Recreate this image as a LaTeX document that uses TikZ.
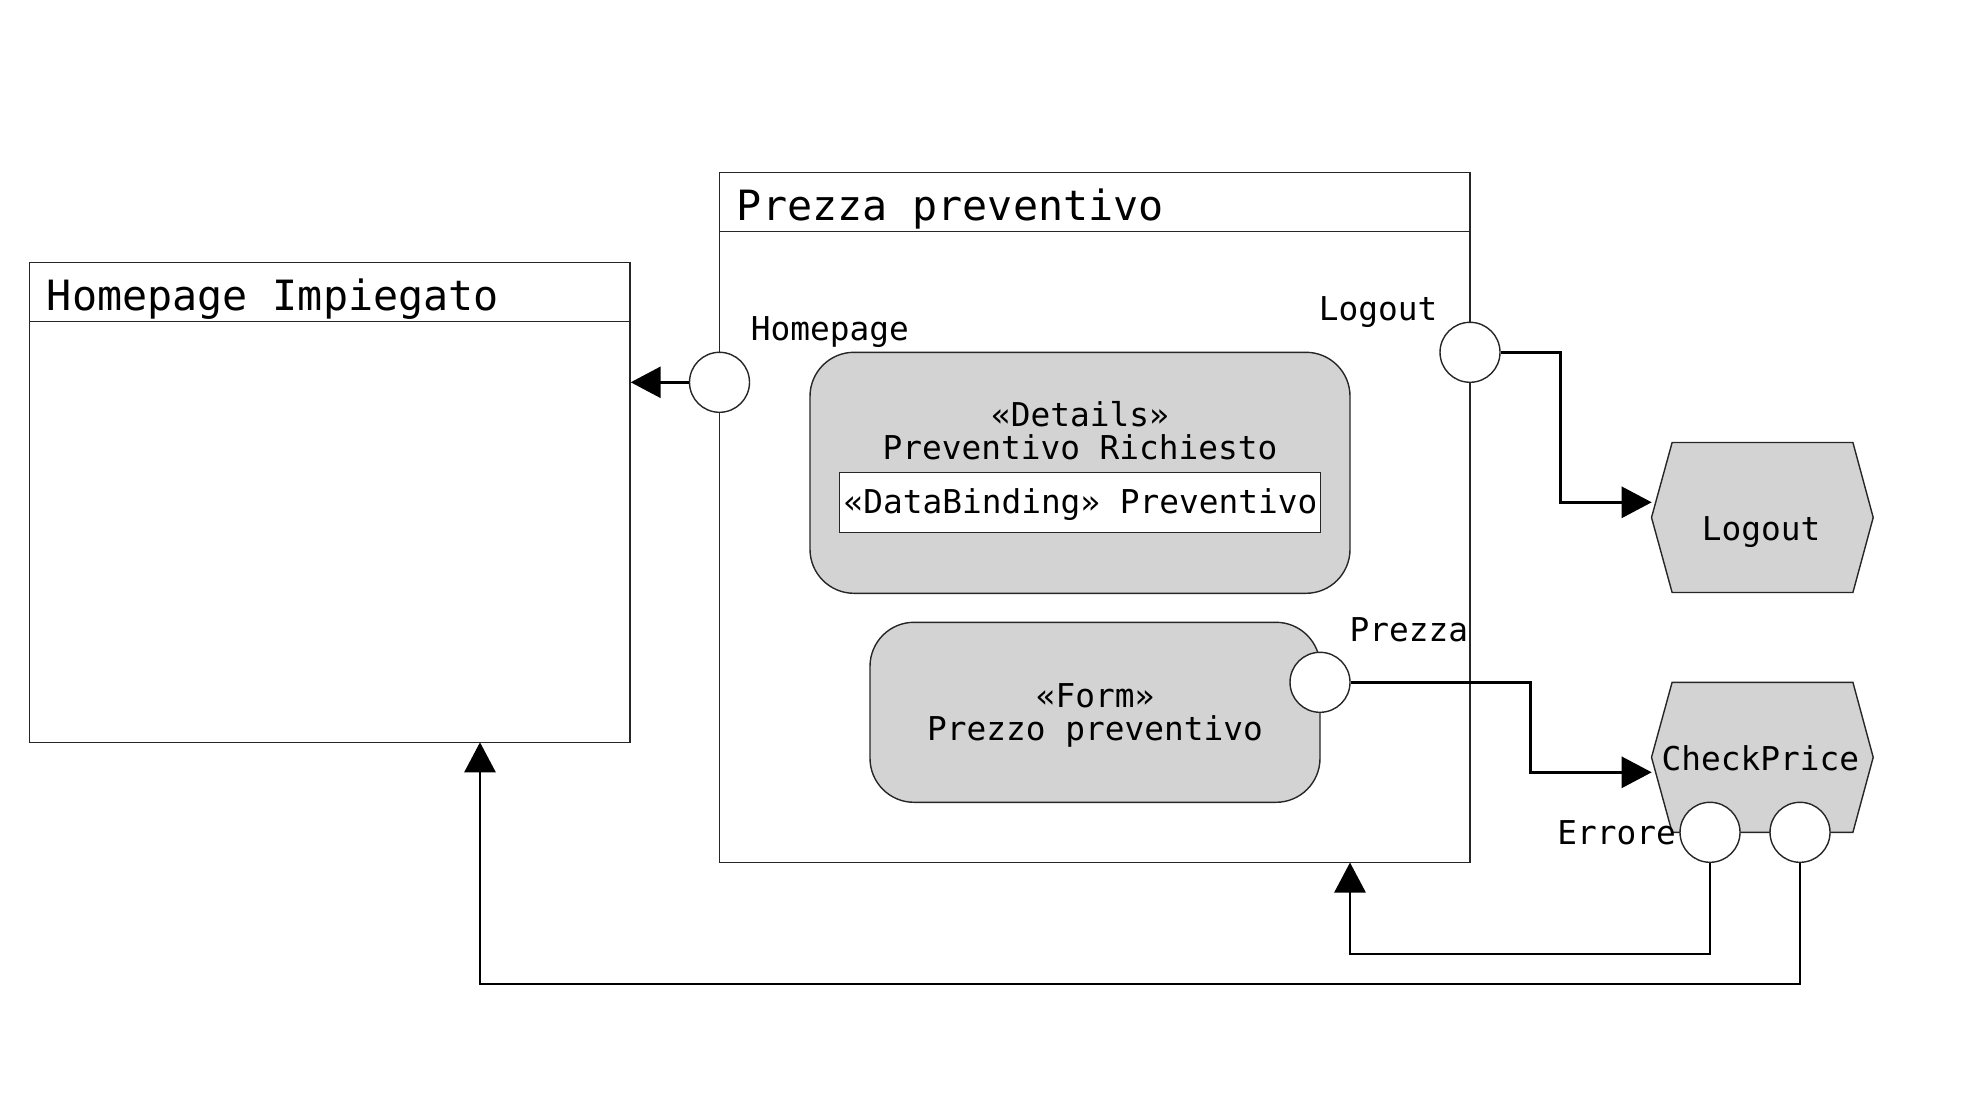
\documentclass[tikz,border=0pt]{standalone}
\usepackage{fontspec}
\usepackage{tikz}
\usetikzlibrary{arrows.meta, positioning}
\newfontfamily\umlfont{DejaVu Sans Mono}
\definecolor{lineBlack}{gray}{0.15}
\definecolor{stateGray}{HTML}{D3D3D3}

\tikzset{
    frame/.style={draw=lineBlack, line width=1.4pt, inner sep=0pt},
    state/.style={draw=lineBlack, fill=stateGray, line width=1.4pt, rounded corners=44pt, inner sep=0pt},
    port/.style={circle, draw=lineBlack, fill=white, line width=1.4pt, minimum size=60pt, inner sep=0pt},
    hexbox/.style={inner sep=0pt, minimum width=221.3pt, minimum height=149.6pt},
    hexline/.style={draw=lineBlack, fill=stateGray, line width=1.4pt},
    title/.style={font=\umlfont\fontsize{41.7}{45}\selectfont, inner sep=0pt, anchor=base west},
    txt/.style={font=\umlfont\fontsize{32.8}{33}\selectfont, inner sep=0pt},
    flow/.style={-{Triangle[length=30pt, width=31pt]}, line width=2.8pt, black}
}

\begin{document}
\begin{tikzpicture}[x=1pt, y=-1pt]
    \useasboundingbox (0,0) rectangle (1988,1118);

    % Pages
    \node[frame, minimum width=600.3pt, minimum height=480pt] (homebox) at (329.85,502.3) {};
    \draw[lineBlack, line width=1.4pt] ([yshift=-60pt]homebox.north west) -- ([yshift=-60pt]homebox.north east);
    \node[title] (hometitle) at (46.7,310.7) {Homepage Impiegato};

    \node[frame, minimum width=750.5pt, minimum height=690.2pt] (prezzabox) at (1094.75,517.4) {};
    \draw[lineBlack, line width=1.4pt] ([yshift=-60pt]prezzabox.north west) -- ([yshift=-60pt]prezzabox.north east);
    \node[title] (prezzatitle) at (736.7,220) {Prezza preventivo};

    % Components
    \node[state, minimum width=540pt, minimum height=241pt] (details) at (1080,472.8) {};
    \node[txt, anchor=base] (detailsname) at (1080,426.7) {«Details»};
    \node[txt, anchor=base] (detailstxt) at (1080,459.3) {Preventivo Richiesto};
    \node[frame, fill=white, minimum width=481pt, minimum height=60pt] (binding) at (1079.8,502.7) {};
    \node[txt, anchor=base] (bindingtxt) at (1080.5,513.3) {«DataBinding» Preventivo};

    \node[state, minimum width=450pt, minimum height=180pt] (form) at (1095,712.3) {};
    \node[txt, anchor=base] (formname) at (1095,707.3) {«Form»};
    \node[txt, anchor=base] (formtxt) at (1095,740) {Prezzo preventivo};

    % Actions
    \node[hexbox] (logout) at (1762.35,517.5) {};
    \draw[hexline] (logout.west) -- ([xshift=20.6pt]logout.north west) -- ([xshift=-20.3pt]logout.north east)
        -- (logout.east) -- ([xshift=-20.3pt]logout.south east) -- ([xshift=20.6pt]logout.south west) -- cycle;
    \node[txt, anchor=base] (logouttxt) at (1761,540) {Logout};

    \node[hexbox] (check) at (1762.35,757.3) {};
    \draw[hexline] (check.west) -- ([xshift=20.6pt]check.north west) -- ([xshift=-20.3pt]check.north east)
        -- (check.east) -- ([xshift=-20.3pt]check.south east) -- ([xshift=20.6pt]check.south west) -- cycle;
    \node[txt, anchor=base] (checktxt) at (1760.3,770) {CheckPrice};

    % Ports
    \node[port] (homeport) at (719.5,382.3) {};
    \node[txt, anchor=base west] (homelabel) at (750.7,340.7) {Homepage};
    \node[port] (logoutport) at (1470,352.3) {};
    \node[txt, anchor=base east] (logoutlabel) at (1437.5,320) {Logout};
    \node[port] (formport) at (1320,682.3) {};
    \node[txt, anchor=base west] (formlabel) at (1349.5,641.7) {Prezza};
    \node[port] (errport) at (1710,832.3) {};
    \node[txt, anchor=base east] (errlabel) at (1676,844.3) {Errore};
    \node[port] (okport) at (1800,832.3) {};

    % Links
    \coordinate (logoutin) at (1651.7,502.3);
    \coordinate (checkin) at (1651.7,772.3);
    \coordinate (errin) at (1350,862.5);
    \coordinate (homein) at (480,742.3);
    \draw[flow] (homeport.west) -- (homeport.west -| homebox.east);
    \draw[flow] (logoutport.east) -- ++(60,0) |- (logoutin);
    \draw[flow] (formport.east) -- ++(180,0) |- (checkin);
    \draw[flow] (errport.south) -- ++(0,91) -| (errin);
    \draw[flow] (okport.south) -- ++(0,121) -| (homein);
\end{tikzpicture}
\end{document}
